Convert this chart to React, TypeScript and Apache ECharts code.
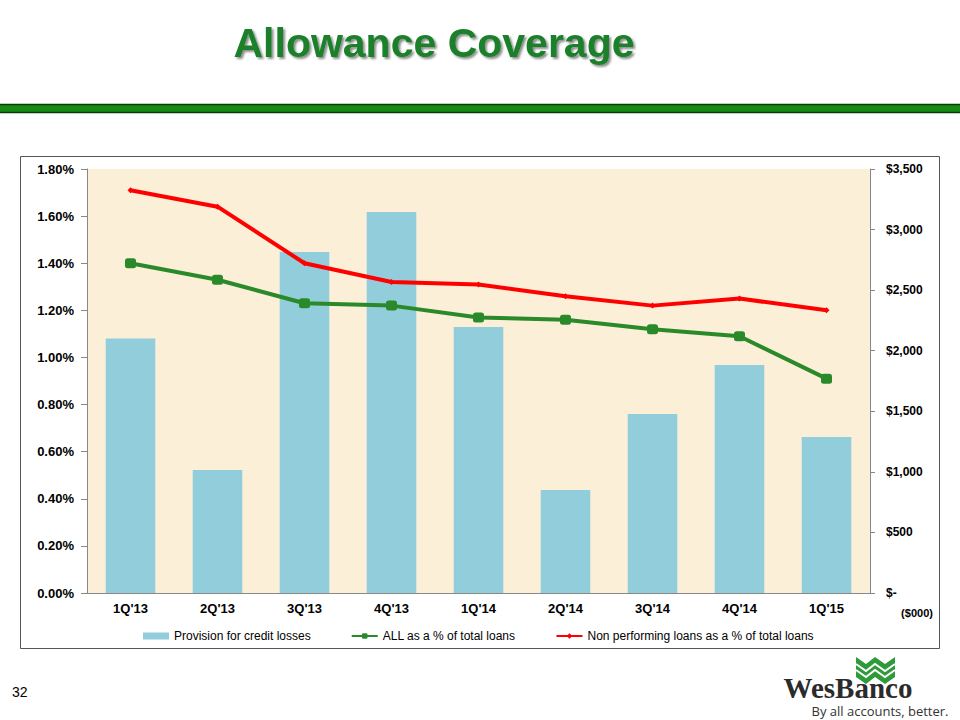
import React, { useEffect, useRef } from "react";
import * as echarts from "echarts";

const categories = ["1Q'13", "2Q'13", "3Q'13", "4Q'13", "1Q'14", "2Q'14", "3Q'14", "4Q'14", "1Q'15"];
const provision = [2100, 1015, 2815, 3146, 2196, 850, 1478, 1882, 1288];
const allPct = [1.4, 1.33, 1.23, 1.22, 1.17, 1.16, 1.12, 1.09, 0.91];
const nplPct = [1.71, 1.64, 1.4, 1.32, 1.31, 1.26, 1.22, 1.25, 1.2];
const seriesNames = [
  "Provision for credit losses",
  "ALL as a % of total loans",
  "Non performing loans as a % of total loans",
];

const FONT = "Arial, 'Liberation Sans', sans-serif";

export default function App() {
  const ref = useRef<HTMLDivElement>(null);
  useEffect(() => {
    const chart = echarts.init(ref.current!, null, { renderer: "svg" });
    chart.setOption({
      animation: false,
      backgroundColor: "#ffffff",
      textStyle: { fontFamily: FONT },
      grid: {
        left: 87,
        right: 90,
        top: 169,
        bottom: 127,
        show: true,
        backgroundColor: "#fcefd8",
        borderWidth: 0,
      },
      legend: {
        left: 138,
        top: 625,
        itemGap: 40,
        itemWidth: 26,
        itemHeight: 7,
        textStyle: { fontSize: 12, color: "#000", fontFamily: FONT },
        data: [
          { name: seriesNames[0], icon: "rect" },
          { name: seriesNames[1] },
          { name: seriesNames[2] },
        ],
      },
      xAxis: {
        type: "category",
        data: categories,
        axisLine: { lineStyle: { color: "#888", width: 1 } },
        axisTick: { show: false },
        axisLabel: { fontSize: 13, fontWeight: "bold", color: "#000", margin: 9 },
      },
      yAxis: [
        {
          type: "value",
          min: 0,
          max: 1.8,
          interval: 0.2,
          splitLine: { show: false },
          axisLine: { show: true, lineStyle: { color: "#888" } },
          axisTick: { show: true, length: 6, lineStyle: { color: "#888" } },
          axisLabel: {
            fontSize: 13,
            fontWeight: "bold",
            color: "#000",
            margin: 13,
            formatter: (v: number) => v.toFixed(2) + "%",
          },
        },
        {
          type: "value",
          min: 0,
          max: 3500,
          interval: 500,
          position: "right",
          splitLine: { show: false },
          axisLine: { show: true, lineStyle: { color: "#888" } },
          axisTick: { show: true, length: 5, lineStyle: { color: "#888" } },
          axisLabel: {
            fontSize: 12,
            fontWeight: "bold",
            color: "#000",
            margin: 16,
            formatter: (v: number) => (v === 0 ? "$-" : "$" + v.toLocaleString("en-US")),
          },
        },
      ],
      series: [
        {
          name: seriesNames[0],
          type: "bar",
          yAxisIndex: 1,
          data: provision,
          barWidth: "57%",
          itemStyle: { color: "#92cddc" },
          z: 1,
        },
        {
          name: seriesNames[1],
          type: "line",
          yAxisIndex: 0,
          data: allPct,
          symbol: "roundRect",
          symbolSize: [11, 10],
          lineStyle: { color: "#2a8a2a", width: 4 },
          itemStyle: { color: "#2a8a2a" },
          z: 3,
        },
        {
          name: seriesNames[2],
          type: "line",
          yAxisIndex: 0,
          data: nplPct,
          symbol: "diamond",
          symbolSize: 6,
          lineStyle: { color: "#ff0000", width: 4 },
          itemStyle: { color: "#ff0000" },
          z: 4,
        },
      ],
      graphic: [
        {
          type: "rect",
          shape: { x: 20.5, y: 156.5, width: 919, height: 492 },
          style: { fill: "none", stroke: "#555", lineWidth: 1 },
          z: -1,
          silent: true,
        },
        {
          type: "text",
          x: 434,
          y: 43,
          style: {
            text: "Allowance Coverage",
            font: "bold 41px " + FONT,
            fill: "#1a7f2a",
            align: "center",
            verticalAlign: "middle",
            textShadowColor: "rgba(0,0,0,0.45)",
            textShadowBlur: 2,
            textShadowOffsetX: 2,
            textShadowOffsetY: 2,
          },
        },
        {
          type: "rect",
          shape: { x: -2, y: 104.5, width: 964, height: 8 },
          style: { fill: "#158a15", stroke: "#0c3a0c", lineWidth: 1.5 },
        },
        {
          type: "text",
          x: 917,
          y: 613,
          style: {
            text: "($000)",
            font: "bold 11px " + FONT,
            fill: "#000",
            align: "center",
            verticalAlign: "middle",
          },
        },
        {
          type: "text",
          x: 12,
          y: 692,
          style: {
            text: "32",
            font: "14px " + FONT,
            fill: "#000",
            verticalAlign: "middle",
          },
        },
        {
          type: "polygon",
          shape: {
            points: [
              [856, 657], [866, 664], [875, 657], [885, 664], [895, 657],
              [895, 677], [885, 684], [875, 677], [866, 684], [856, 677],
            ],
          },
          style: { fill: "#2f9a3a" },
        },
        {
          type: "polyline",
          shape: { points: [[856, 664], [866, 671], [875, 664], [885, 671], [895, 664]] },
          style: { stroke: "#ffffff", lineWidth: 2, fill: "none" },
        },
        {
          type: "polyline",
          shape: { points: [[856, 670], [866, 677], [875, 670], [885, 677], [895, 670]] },
          style: { stroke: "#ffffff", lineWidth: 2, fill: "none" },
        },
        {
          type: "text",
          x: 848,
          y: 688,
          style: {
            text: "WesBanco",
            font: "bold 29px 'Liberation Serif', 'DejaVu Serif', serif",
            fill: "#2b2b2b",
            align: "center",
            verticalAlign: "middle",
          },
        },
        {
          type: "text",
          x: 880,
          y: 711,
          style: {
            text: "By all accounts, better.",
            font: "13px 'Open Sans', " + FONT,
            fill: "#333",
            align: "center",
            verticalAlign: "middle",
          },
        },
      ],
    });
    return () => chart.dispose();
  }, []);
  return (
    <div
      ref={ref}
      style={{ position: "absolute", left: 0, top: 0, width: 960, height: 720 }}
    />
  );
}
